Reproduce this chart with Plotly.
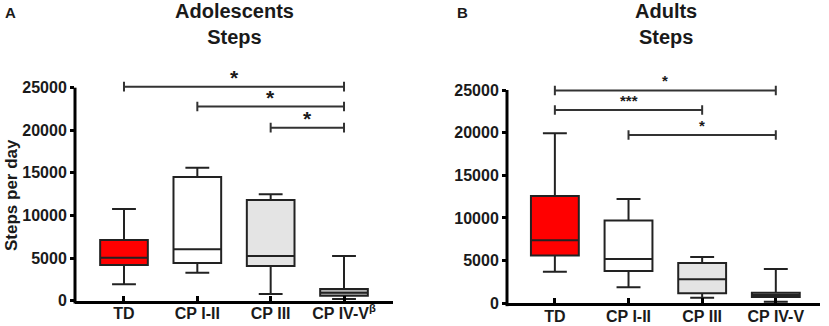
import plotly.graph_objects as go

# ---------------- data ----------------
categories = ["TD", "CP I-II", "CP III", "CP IV-V"]
tick_labels_a = ["TD", "CP I-II", "CP III", "CP IV-V<sup>β</sup>"]
tick_labels_b = ["TD", "CP I-II", "CP III", "CP IV-V"]

# Adolescents (panel A)
a_lower = [1920, 3290, 780, 200]
a_q1 = [4190, 4420, 4070, 590]
a_median = [5050, 6025, 5240, 940]
a_q3 = [7120, 14515, 11815, 1370]
a_upper = [10760, 15610, 12480, 5250]

# Adults (panel B)
b_lower = [3710, 1875, 660, 190]
b_q1 = [5590, 3790, 1170, 740]
b_median = [7380, 5200, 2810, 975]
b_q3 = [12580, 9690, 4730, 1245]
b_upper = [19920, 12230, 5430, 4020]

# significance brackets: (from index, to index, level, label)
a_brackets = [(0, 3, 25120, "*"), (1, 3, 22780, "*"), (2, 3, 20310, "*")]
b_brackets = [(0, 3, 24950, "*"), (0, 2, 22650, "***"), (1, 3, 19720, "*")]

y_ticks = [0, 5000, 10000, 15000, 20000, 25000]
y_tick_text = ["0", "5000", "10000", "15000", "20000", "25000"]

# ---------------- style ----------------
FONT = "Arial, Liberation Sans, Helvetica, sans-serif"
fills = ["#ff0000", "#ffffff", "#e4e4e4", "#b3b3b3"]
BOX_LINE = "#222222"
TXT = "#1a1a1a"
W, H = 829, 326
Y_TOP = 28000
Y_AXIS_END = 25000

fig = go.Figure()


def add_boxes(lower, q1, med, q3, upper, xa, ya):
    for i, cat in enumerate(categories):
        fig.add_trace(go.Box(
            x=[cat], q1=[q1[i]], median=[med[i]], q3=[q3[i]],
            lowerfence=[lower[i]], upperfence=[upper[i]],
            fillcolor=fills[i], line=dict(color=BOX_LINE, width=2),
            width=0.65, whiskerwidth=0.5, boxpoints=False,
            showlegend=False, hoverinfo="skip", xaxis=xa, yaxis=ya))


add_boxes(a_lower, a_q1, a_median, a_q3, a_upper, "x", "y")
add_boxes(b_lower, b_q1, b_median, b_q3, b_upper, "x2", "y2")

shapes = []
annotations = []


def add_brackets(brackets, xr, yr, star_size, yshift):
    for i, j, lvl, lab in brackets:
        shapes.append(dict(type="line", xref=xr, yref=yr, x0=i, x1=j, y0=lvl, y1=lvl,
                           line=dict(color="#333333", width=2)))
        for k in (i, j):
            shapes.append(dict(type="line", xref=xr, yref=yr, x0=k, x1=k,
                               y0=lvl - 560, y1=lvl + 560,
                               line=dict(color="#333333", width=2)))
        annotations.append(dict(x=(i + j) / 2, y=lvl, xref=xr, yref=yr, text="<b>%s</b>" % lab,
                                showarrow=False, yanchor="bottom", yshift=yshift,
                                font=dict(family=FONT, size=star_size, color=TXT)))


add_brackets(a_brackets, "x", "y", 21, -4)
add_brackets(b_brackets, "x2", "y2", 15, -1)

# y axis lines ending at 25000
for xr, yr in (("x domain", "y domain"), ("x2 domain", "y2 domain")):
    shapes.append(dict(type="line", xref=xr, yref=yr, x0=0, x1=0, y0=-0.012,
                       y1=Y_AXIS_END / Y_TOP, line=dict(color="black", width=3)))

# titles and labels
annotations += [
    dict(x=234 / W, y=1, xref="paper", yref="paper", xanchor="center", yanchor="top",
         text="<b>Adolescents<br>Steps</b>", showarrow=False, yshift=2,
         font=dict(family=FONT, size=20, color=TXT)),
    dict(x=666 / W, y=1, xref="paper", yref="paper", xanchor="center", yanchor="top",
         text="<b>Adults<br>Steps</b>", showarrow=False, yshift=2,
         font=dict(family=FONT, size=20, color=TXT)),
    dict(x=3 / W, y=1, xref="paper", yref="paper", xanchor="left", yanchor="top",
         text="<b>A</b>", showarrow=False, yshift=-2,
         font=dict(family=FONT, size=15, color=TXT)),
    dict(x=455 / W, y=1, xref="paper", yref="paper", xanchor="left", yanchor="top",
         text="<b>B</b>", showarrow=False, yshift=-2,
         font=dict(family=FONT, size=15, color=TXT)),
    dict(x=11 / W, y=1 - 195 / H, xref="paper", yref="paper", xanchor="center", yanchor="middle",
         text="<b>Steps per day</b>", textangle=-90, showarrow=False,
         font=dict(family=FONT, size=17, color=TXT)),
]

tickfont = dict(family=FONT, size=16, color=TXT, weight="bold")

xaxis_common = dict(type="category", categoryorder="array", categoryarray=categories,
                    showline=True, linecolor="black", linewidth=3,
                    ticks="inside", ticklen=5, tickwidth=3, tickcolor="black",
                    showgrid=False, zeroline=False, tickfont=tickfont,
                    tickvals=categories, fixedrange=True, ticklabelstandoff=-4,
                    automargin=False)
yaxis_common = dict(range=[0, Y_TOP], tickvals=y_ticks, ticktext=y_tick_text,
                    ticks="outside", ticklen=4,
                    tickwidth=3, tickcolor="black", showline=False, showgrid=False,
                    zeroline=False, tickfont=tickfont, fixedrange=True, automargin=False)

fig.update_layout(
    width=W, height=H, autosize=False,
    margin=dict(l=0, r=0, t=0, b=0, pad=0, autoexpand=False),
    paper_bgcolor="white", plot_bgcolor="white",
    boxmode="overlay", showlegend=False,
    xaxis=dict(**xaxis_common, domain=[75 / W, 393 / W], range=[-0.668, 3.668],
               ticktext=tick_labels_a, anchor="y"),
    yaxis=dict(**yaxis_common, domain=[1 - 300.7 / H, 1 - 62.1 / H], anchor="x"),
    xaxis2=dict(**xaxis_common, domain=[507 / W, 820 / W], range=[-0.65, 3.6],
                ticktext=tick_labels_b, anchor="y2"),
    yaxis2=dict(**yaxis_common, domain=[1 - 303.3 / H, 1 - 64.4 / H], anchor="x2"),
    shapes=shapes,
    annotations=annotations,
)

fig.write_html("out.html", config={"displayModeBar": False},
               post_script="document.body.style.margin='0';document.body.style.overflow='hidden';")
